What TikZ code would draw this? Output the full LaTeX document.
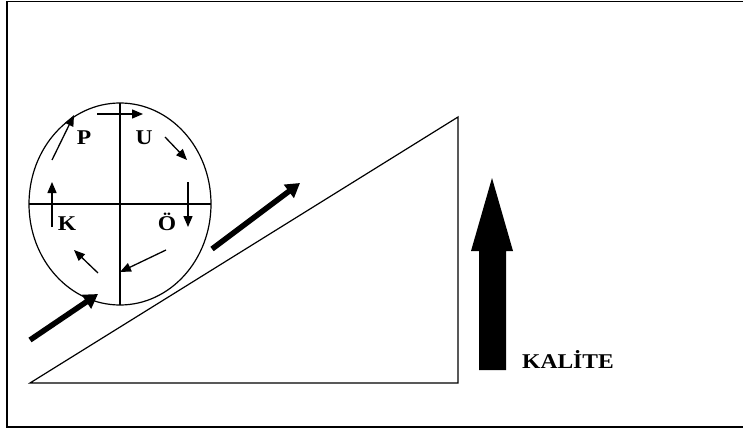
\documentclass[tikz,border=0pt]{standalone}
\usepackage{fontspec}
\setmainfont{Liberation Serif}
\usetikzlibrary{arrows.meta}
\begin{document}
\begin{tikzpicture}[x=1pt,y=-1pt,
  thin line/.style={line width=1.2pt},
  small arrow/.style={line width=1.3pt,-{Triangle[length=11pt,width=9pt]}},
  thick arrow/.style={line width=5.5pt,-{Triangle[length=14pt,width=16pt]}},
  lbl/.style={font=\bfseries\fontsize{21}{21}\selectfont, inner sep=0pt, xscale=1.12, transform shape}]
\useasboundingbox (0,0) rectangle (743,433);
% frame
\draw[line width=1.5pt] (7,1.5) -- (750,1.5) (7,1.5) -- (7,427) -- (750,427);
% triangle (slope)
\coordinate (A) at (30,383);
\coordinate (B) at (458,383);
\coordinate (C) at (458,117);
\draw[thin line] (A) -- (B) -- (C) -- cycle;
% PUKÖ circle
\coordinate (O) at (120,204);
\draw[thin line] (O) ellipse [x radius=91, y radius=101];
\draw[thin line] (120,103) -- (120,305);
\draw[thin line] (29,204) -- (211,204);
\node[lbl] (P) at (84,138) {P};
\node[lbl] (U) at (144,138) {U};
\node[lbl] (K) at (67,224) {K};
\node[lbl] (O2) at (167,222) {Ö};
% cycle arrows
\coordinate (a1) at (97,114);  \coordinate (a1e) at (143,114);
\coordinate (a2) at (165,137); \coordinate (a2e) at (187,160);
\coordinate (a3) at (188,182); \coordinate (a3e) at (188,227);
\coordinate (a4) at (166,250); \coordinate (a4e) at (120,272);
\coordinate (a5) at (98,273);  \coordinate (a5e) at (74,250);
\coordinate (a6) at (52,227);  \coordinate (a6e) at (52,182);
\coordinate (a7) at (52,160);  \coordinate (a7e) at (74,115);
\draw[small arrow] (a1) -- (a1e);
\draw[small arrow] (a2) -- (a2e);
\draw[small arrow] (a3) -- (a3e);
\draw[small arrow] (a4) -- (a4e);
\draw[small arrow] (a5) -- (a5e);
\draw[small arrow] (a6) -- (a6e);
\draw[small arrow] (a7) -- (a7e);
% thick push arrows
\coordinate (t1) at (30,340); \coordinate (t1e) at (98,294);
\coordinate (t2) at (212,249); \coordinate (t2e) at (300,183);
\draw[thick arrow] (t1) -- (t1e);
\draw[thick arrow] (t2) -- (t2e);
% big quality arrow
\fill (479,370) -- (506,370) -- (506,251) -- (513,251) -- (492,178) -- (471,251) -- (479,251) -- cycle;
\node[lbl, anchor=base west] (kal) at (522,368) {KALİTE};
\end{tikzpicture}
\end{document}
